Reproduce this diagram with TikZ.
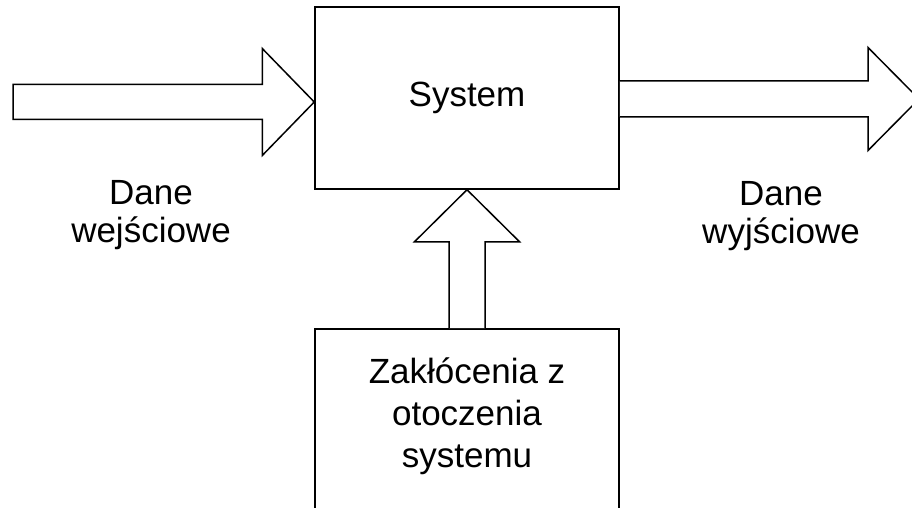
\documentclass[tikz,border=0pt]{standalone}
\usepackage{fontspec}
\setmainfont{Liberation Sans}
\usetikzlibrary{calc}
\begin{document}
\begin{tikzpicture}[x=1pt,y=-1pt,
  line width=1.5pt, line join=miter,
  box/.style={draw, fill=white, rectangle, inner sep=0pt},
  lbl/.style={align=center, inner sep=0pt, font=\fontsize{35}{38}\selectfont},
  fatarrow/.style={draw, fill=white}]
  % canvas and clipping
  \useasboundingbox (0,0) rectangle (912,508);
  \clip (0,0) rectangle (912,508);
  \fill[white] (0,0) rectangle (912,508);

  % boxes
  \node[box, minimum width=304pt, minimum height=182pt,
        font=\fontsize{35}{38}\selectfont] (sys) at (467,98) {System};
  \node[box, minimum width=304pt, minimum height=200pt, anchor=north] (dist) at (467,328) {};
  \node[lbl, font=\fontsize{35}{42}\selectfont, anchor=north] (distlbl) at (467,357)
       {Zakłócenia z\\otoczenia\\systemu};

  % free ends of the side arrows
  \coordinate (in) at (13,102);
  \coordinate (out) at (919,99);

  % input arrow
  \draw[fatarrow]
    ($(in)+(0,-17.5)$) -- ($(sys.west |- in)+(-52,-17.5)$)
    -- ($(sys.west |- in)+(-52,-53.5)$) -- (sys.west |- in)
    -- ($(sys.west |- in)+(-52,53.5)$) -- ($(sys.west |- in)+(-52,17.5)$)
    -- ($(in)+(0,17.5)$) -- cycle;

  % output arrow
  \draw[fatarrow]
    ($(sys.east |- out)+(0,-18)$) -- ($(out)+(-51,-18)$)
    -- ($(out)+(-51,-51.5)$) -- (out)
    -- ($(out)+(-51,51.5)$) -- ($(out)+(-51,18)$)
    -- ($(sys.east |- out)+(0,18)$);

  % disturbance arrow
  \draw[fatarrow]
    ($(dist.north)+(-18,0)$) -- ($(sys.south)+(-18,52)$)
    -- ($(sys.south)+(-52.5,52)$) -- (sys.south)
    -- ($(sys.south)+(52.5,52)$) -- ($(sys.south)+(18,52)$)
    -- ($(dist.north)+(18,0)$);

  % side labels
  \node[lbl, anchor=north] (inlbl) at (151,180) {Dane\\wejściowe};
  \node[lbl, anchor=north] (outlbl) at (781,181) {Dane\\wyjściowe};
\end{tikzpicture}
\end{document}
